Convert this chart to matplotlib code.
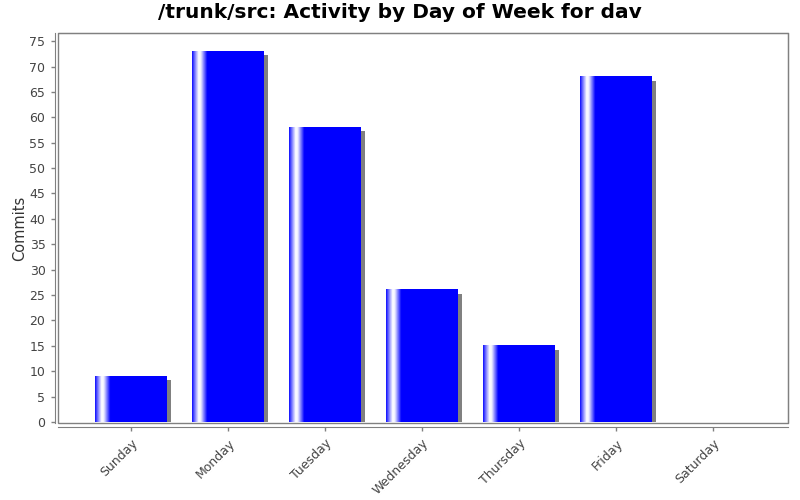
import matplotlib
matplotlib.use("Agg")
import matplotlib.pyplot as plt
from matplotlib.colors import LinearSegmentedColormap
from matplotlib.patches import Rectangle
import numpy as np

days = ['Sunday', 'Monday', 'Tuesday', 'Wednesday', 'Thursday', 'Friday', 'Saturday']
commits = [9, 73, 58, 26, 15, 68, 0]

fig = plt.figure(figsize=(8, 5), dpi=100)
ax = fig.add_axes([58 / 800, 1 - 423 / 500, 730 / 800, 390 / 500])

x = np.arange(len(days))
width = 0.74
ymin, ymax = -0.2, 76.6

# shading across the bar like the old gradient bar painter
cmap = LinearSegmentedColormap.from_list(
    'bar', [(0.0, '#1010ff'), (0.04, '#8080ff'), (0.09, '#ffffff'),
            (0.12, '#f0f0ff'), (0.21, '#0000ff'), (1.0, '#0000ff')])
grad = np.linspace(0, 1, 300).reshape(1, -1)

# pixel offsets for the drop shadow
dx = 4 / 97.3
dy = 4 / 5.08

bars = ax.bar(x, commits, width=width, color='none', edgecolor='none', zorder=3)
for b in bars:
    h = b.get_height()
    if h <= 0:
        continue
    x0 = b.get_x()
    ax.add_patch(Rectangle((x0 + dx, 0), b.get_width(), h - dy,
                           facecolor='#808080', edgecolor='none', zorder=2))
    ax.imshow(grad, cmap=cmap, aspect='auto', interpolation='bilinear',
              extent=(x0, x0 + b.get_width(), 0, h), zorder=3)
ax.set_xlim(-0.753, len(days) - 1 + 0.773)
ax.set_ylim(ymin, ymax)

# plot box
for s in ['top', 'right']:
    ax.spines[s].set_color('#808080')
ax.add_patch(Rectangle((0, 0), 1, 1, transform=ax.transAxes, fill=False,
                       edgecolor='#808080', linewidth=1, zorder=5, clip_on=False))
ax.spines['left'].set_position(('outward', 2.5))
ax.spines['bottom'].set_position(('outward', 3))
ax.spines['left'].set_color('#808080')
ax.spines['bottom'].set_color('#808080')

ax.set_yticks(np.arange(0, 80, 5))
ax.set_xticks(x)
ax.set_xticklabels(days, rotation=45, ha='right', rotation_mode='anchor')
ax.tick_params(axis='both', colors='#808080', labelcolor='#444444',
               labelsize=9, length=3, width=1)
ax.tick_params(axis='x', length=3, pad=4)

ax.set_ylabel('Commits', fontsize=10.5, color='#333333', labelpad=2)
fig.suptitle('/trunk/src: Activity by Day of Week for dav', fontsize=14.5,
             fontweight='bold', y=0.995)

fig.savefig('out.png', dpi=100)
